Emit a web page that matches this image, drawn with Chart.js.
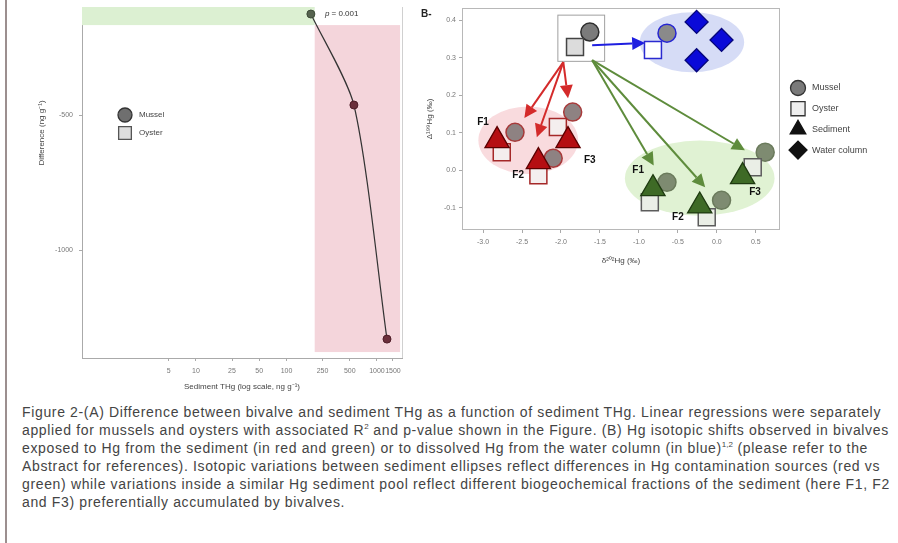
<!DOCTYPE html>
<html>
<head>
<meta charset="utf-8">
<script src="https://cdn.jsdelivr.net/npm/chart.js@4.4.1/dist/chart.umd.min.js"></script>
<style>
  body { margin: 0; background: #fff; width: 898px; height: 543px; overflow: hidden; position: relative; font-family: 'Liberation Sans', Arial, sans-serif; }
  #rule { position: absolute; left: 5px; top: 0; width: 2px; height: 543px; background: #9c8f8f; }
  #boxA { position: absolute; left: 8px; top: 0; width: 402px; height: 396px; }
  #boxB { position: absolute; left: 415px; top: 0; width: 483px; height: 280px; }
  #labB { position: absolute; left: 421px; top: 8px; font: bold 10px 'Liberation Sans', Arial, sans-serif; color: #222; }
  #cap { position: absolute; left: 22px; top: 403px; font-size: 14px; letter-spacing: 0.65px; line-height: 18px; color: #444; white-space: nowrap; }
  sup { font-size: 8px; line-height: 0; vertical-align: 6px; letter-spacing: 0; }
</style>
</head>
<body>
<div id="rule"></div>
<div id="boxA"><canvas id="chartA"></canvas></div>
<div id="boxB"><canvas id="chartB"></canvas></div>
<div id="labB">B-</div>
<div id="cap">
Figure 2-(A) Difference between bivalve and sediment THg as a function of sediment THg. Linear regressions were separately<br>
applied for mussels and oysters with associated R<sup>2</sup> and p-value shown in the Figure. (B) Hg isotopic shifts observed in bivalves<br>
exposed to Hg from the sediment (in red and green) or to dissolved Hg from the water column (in blue)<sup>1,2</sup> (please refer to the<br>
Abstract for references). Isotopic variations between sediment ellipses reflect differences in Hg contamination sources (red vs<br>
green) while variations inside a similar Hg sediment pool reflect different biogeochemical fractions of the sediment (here F1, F2<br>
and F3) preferentially accumulated by bivalves.
</div>
<script>
Chart.defaults.font.family = "'Liberation Sans', Arial, sans-serif";
Chart.defaults.color = '#777';
Chart.defaults.animation = false;

// ---- panel A: bivalve minus sediment THg vs sediment THg
const sedTHg = [186, 556, 1290];
const diffTHg = [-126, -463, -1330];
const siteA = ['low', 'high', 'high'];
const xTicksA = [5, 10, 25, 50, 100, 250, 500, 1000, 1500];
const yTicksA = [-1000, -500];
// shaded ranges (sediment THg range, difference range)
const bandX0 = [0.55, 205];
const bandX1 = [205, 1800];
const bandY0 = [-167, -1378];
const bandY1 = [-100, -167];
const bandColor = ['#dcf0d2', '#f4d5db'];

// ---- panel B: isotopes (x = d202Hg, y = D199Hg)
const musselX = [-1.63, -0.64, -2.59, -2.10, -1.85, -0.64, 0.06, 0.62];
const musselY = [0.368, 0.365, 0.101, 0.032, 0.155, -0.032, -0.080, 0.048];
const musselGrp = ['start', 'water', 'red', 'red', 'red', 'green', 'green', 'green'];
const oysterX = [-1.82, -0.82, -2.76, -2.29, -2.04, -0.86, -0.13, 0.46];
const oysterY = [0.328, 0.320, 0.048, -0.013, 0.115, -0.085, -0.125, 0.008];
const oysterGrp = ['start', 'water', 'red', 'red', 'red', 'green', 'green', 'green'];
const sedimentX = [-2.82, -2.29, -1.91, -0.82, -0.22, 0.33];
const sedimentY = [0.079, 0.023, 0.079, -0.049, -0.095, -0.017];
const sedimentGrp = ['red', 'red', 'red', 'green', 'green', 'green'];
const waterX = [-0.26, 0.06, -0.26];
const waterY = [0.395, 0.347, 0.293];
const xTicksB = [-3.0, -2.5, -2.0, -1.5, -1.0, -0.5, 0.0, 0.5];
const yTicksB = [-0.1, 0.0, 0.1, 0.2, 0.3, 0.4];

// shifts: from bivalve start pool to exposure pool
const arrowX0 = [-1.97, -1.97, -1.97, -1.60, -1.60, -1.60, -1.60];
const arrowY0 = [0.288, 0.288, 0.288, 0.293, 0.293, 0.293, 0.333];
const arrowX1 = [-2.47, -2.31, -1.91, -0.81, -0.15, 0.36, -0.92];
const arrowY1 = [0.139, 0.088, 0.192, 0.013, -0.045, 0.053, 0.339];
const arrowGrp = ['red', 'red', 'red', 'green', 'green', 'green', 'water'];

// ellipses: centre, half-width, half-height (data units)
const ellGrp = ['red', 'green', 'water'];
const ellX = [-2.42, -0.22, -0.32];
const ellY = [0.080, -0.021, 0.341];
const ellRx = [0.64, 0.96, 0.67];
const ellRy = [0.090, 0.100, 0.080];

const fracLabels = ['F1', 'F2', 'F3', 'F1', 'F2', 'F3'];
const fracX = [-3.00, -2.55, -1.63, -1.01, -0.50, 0.49];
const fracY = [0.128, -0.013, 0.027, 0.000, -0.125, -0.059];

const startBox = [-2.04, -1.44, 0.290, 0.413];

const musselFill = { start: '#7b7b7b', water: '#8a8a8a', red: '#8e8282', green: '#7e8b71' };
const musselEdge = { start: '#2e2e2e', water: '#2626d2', red: '#a83a3a', green: '#6b7b5c' };
const oysterFill = { start: '#dcdcdc', water: '#ffffff', red: '#f4eeee', green: '#eaeee6' };
const oysterEdge = { start: '#444444', water: '#2a2ad0', red: '#a52828', green: '#5c5c5c' };
const sedFill = { red: '#b50e12', green: '#3e6a26' };
const sedEdge = { red: '#5c0000', green: '#1e3a10' };
const arrowCol = { red: '#d42a2a', green: '#5e8c3c', water: '#1f1fe0' };
const ellCol = { red: 'rgba(240,160,168,0.38)', green: 'rgba(214,237,196,0.75)', water: 'rgba(186,196,240,0.6)' };

const legendA = [
  { label: 'Mussel', style: 'circle', r: 7, fill: '#6f6f6f', edge: '#333' },
  { label: 'Oyster', style: 'rect', r: 9, fill: '#dedede', edge: '#555' }
];
const legendB = [
  { label: 'Mussel', style: 'circle', r: 7.5, fill: '#7a7a7a', edge: '#333' },
  { label: 'Oyster', style: 'rect', r: 10, fill: '#eeeeee', edge: '#333' },
  { label: 'Sediment', style: 'triangle', r: 9, fill: '#111', edge: '#111' },
  { label: 'Water column', style: 'rectRot', r: 9, fill: '#111', edge: '#111' }
];

function drawLegend(ctx, items, x0, y0, gap, size) {
  items.forEach((it, i) => {
    const y = y0 + i * gap;
    ctx.fillStyle = it.fill; ctx.strokeStyle = it.edge; ctx.lineWidth = 1.3;
    Chart.helpers.drawPoint(ctx, { pointStyle: it.style, radius: it.r, borderWidth: 1.3 }, x0, y);
    ctx.fillStyle = '#444'; ctx.font = size + "px 'Liberation Sans', Arial, sans-serif";
    ctx.textBaseline = 'middle'; ctx.textAlign = 'left';
    ctx.fillText(it.label, x0 + 14, y);
  });
}

const decorA = {
  id: 'decorA',
  beforeDatasetsDraw(chart) {
    const { ctx, scales: { x, y }, chartArea: a } = chart;
    ctx.save();
    bandColor.forEach((c, i) => {
      const l = x.getPixelForValue(bandX0[i]), r = x.getPixelForValue(bandX1[i]);
      const t = y.getPixelForValue(bandY1[i]), b = y.getPixelForValue(bandY0[i]);
      ctx.fillStyle = c; ctx.fillRect(l, t, r - l, b - t);
    });
    ctx.strokeStyle = '#d0d0d0'; ctx.lineWidth = 1;
    ctx.beginPath(); ctx.moveTo(a.right + 0.5, a.top); ctx.lineTo(a.right + 0.5, a.bottom); ctx.stroke();
    // y title sits high because the original panel is cropped at the top
    ctx.translate(34, 133); ctx.rotate(-Math.PI / 2);
    ctx.fillStyle = '#444'; ctx.font = "8px 'Liberation Sans', Arial, sans-serif";
    ctx.textAlign = 'center'; ctx.textBaseline = 'middle';
    ctx.fillText('Difference (ng g⁻¹)', 0, 0);
    ctx.restore();
  },
  afterDatasetsDraw(chart) {
    const { ctx, scales: { x, y } } = chart;
    ctx.save();
    const px = x.getPixelForValue(sedTHg[0]) + 14, py = y.getPixelForValue(diffTHg[0]);
    ctx.fillStyle = '#333'; ctx.textBaseline = 'middle'; ctx.textAlign = 'left';
    ctx.font = "italic 8px 'Liberation Sans', Arial, sans-serif";
    ctx.fillText('p', px, py);
    const w = ctx.measureText('p').width;
    ctx.font = "8px 'Liberation Sans', Arial, sans-serif";
    ctx.fillText(' = 0.001', px + w, py);
    drawLegend(ctx, legendA, 117, 115, 18, 8);
    ctx.restore();
  }
};

function drawArrow(ctx, x0, y0, x1, y1, color) {
  const ang = Math.atan2(y1 - y0, x1 - x0), hl = 13, hw = 6.5;
  const bx = x1 - hl * Math.cos(ang), by = y1 - hl * Math.sin(ang);
  ctx.strokeStyle = color; ctx.lineWidth = 2;
  ctx.beginPath(); ctx.moveTo(x0, y0); ctx.lineTo(bx, by); ctx.stroke();
  ctx.fillStyle = color;
  ctx.beginPath(); ctx.moveTo(x1, y1);
  ctx.lineTo(bx + hw * Math.sin(ang), by - hw * Math.cos(ang));
  ctx.lineTo(bx - hw * Math.sin(ang), by + hw * Math.cos(ang));
  ctx.closePath(); ctx.fill();
}

const decorB = {
  id: 'decorB',
  beforeDatasetsDraw(chart) {
    const { ctx, scales: { x, y }, chartArea: a } = chart;
    ctx.save();
    ctx.strokeStyle = '#b8b8b8'; ctx.lineWidth = 1;
    ctx.strokeRect(a.left + 0.5, a.top + 0.5, a.right - a.left - 1, a.bottom - a.top - 1);
    ellGrp.forEach((g, i) => {
      const cx = x.getPixelForValue(ellX[i]), cy = y.getPixelForValue(ellY[i]);
      const rx = x.getPixelForValue(ellX[i] + ellRx[i]) - cx;
      const ry = cy - y.getPixelForValue(ellY[i] + ellRy[i]);
      ctx.fillStyle = ellCol[g];
      ctx.beginPath(); ctx.ellipse(cx, cy, rx, ry, 0, 0, Math.PI * 2); ctx.fill();
    });
    const bl = x.getPixelForValue(startBox[0]), br = x.getPixelForValue(startBox[1]);
    const bt = y.getPixelForValue(startBox[3]), bb = y.getPixelForValue(startBox[2]);
    ctx.strokeStyle = '#a0a0a0'; ctx.lineWidth = 1;
    ctx.strokeRect(bl, bt, br - bl, bb - bt);
    arrowGrp.forEach((g, i) => {
      drawArrow(ctx, x.getPixelForValue(arrowX0[i]), y.getPixelForValue(arrowY0[i]),
        x.getPixelForValue(arrowX1[i]), y.getPixelForValue(arrowY1[i]), arrowCol[g]);
    });
    ctx.restore();
  },
  afterDatasetsDraw(chart) {
    const { ctx, scales: { x, y } } = chart;
    ctx.save();
    ctx.fillStyle = '#111'; ctx.font = "bold 10px 'Liberation Sans', Arial, sans-serif";
    ctx.textAlign = 'center'; ctx.textBaseline = 'middle';
    fracLabels.forEach((t, i) => ctx.fillText(t, x.getPixelForValue(fracX[i]), y.getPixelForValue(fracY[i])));
    drawLegend(ctx, legendB, 383, 88, 20.7, 9);
    ctx.restore();
  }
};

const tickFont = { size: 7 };
const titleFont = { size: 8 };
const noPad = s => { s.paddingTop = 0; s.paddingBottom = 0; };

new Chart(document.getElementById('chartA'), {
  type: 'scatter',
  data: {
    datasets: [
      {
        data: sedTHg.map((v, i) => ({ x: v, y: diffTHg[i] })),
        pointRadius: 4, pointHoverRadius: 4,
        backgroundColor: siteA.map(s => s === 'low' ? '#56634f' : '#6b2f3b'),
        borderColor: siteA.map(s => s === 'low' ? '#3d4a38' : '#4e1c27'),
        borderWidth: 1
      },
      {
        data: sedTHg.map((v, i) => ({ x: v, y: diffTHg[i] })),
        showLine: true, tension: 0.25,
        borderColor: '#333', borderWidth: 1.2, pointRadius: 0
      }
    ]
  },
  options: {
    responsive: true, maintainAspectRatio: false,
    layout: { autoPadding: false, padding: { left: 28, right: 8, top: 7, bottom: 0 } },
    plugins: { legend: { display: false }, tooltip: { enabled: false } },
    scales: {
      x: {
        type: 'logarithmic', min: 0.55, max: 1890,
        afterBuildTicks: s => { s.ticks = xTicksA.map(v => ({ value: v })); },
        afterFit: s => { s.height = 38; },
        ticks: { font: tickFont, color: '#777', padding: 6, autoSkip: false, maxRotation: 0, callback: v => String(v) },
        grid: { drawOnChartArea: false, tickLength: 3, color: '#aaa' },
        border: { color: '#aaa' },
        title: { display: true, text: 'Sediment THg (log scale, ng g⁻¹)', font: titleFont, color: '#444', padding: { top: 0, bottom: 4 } }
      },
      y: {
        min: -1400, max: -100,
        afterBuildTicks: s => { s.ticks = yTicksA.map(v => ({ value: v })); },
        afterFit: s => { s.width = 46; noPad(s); },
        ticks: { font: tickFont, color: '#777', padding: 6, callback: v => String(v) },
        grid: { drawOnChartArea: false, tickLength: 3, color: '#aaa' },
        border: { color: '#aaa' },
        title: { display: false }
      }
    }
  },
  plugins: [decorA]
});

const pts = (xs, ys) => xs.map((v, i) => ({ x: v, y: ys[i] }));

new Chart(document.getElementById('chartB'), {
  type: 'scatter',
  data: {
    datasets: [
      {
        label: 'Sediment', order: 1, data: pts(sedimentX, sedimentY),
        pointStyle: 'triangle', pointRadius: 14, pointHoverRadius: 14, borderWidth: 1.3,
        backgroundColor: sedimentGrp.map(g => sedFill[g]), borderColor: sedimentGrp.map(g => sedEdge[g])
      },
      {
        label: 'Water column', order: 2, data: pts(waterX, waterY),
        pointStyle: 'rectRot', pointRadius: 11.5, pointHoverRadius: 11.5, borderWidth: 1.3,
        backgroundColor: '#0a0ad8', borderColor: '#06067a'
      },
      {
        label: 'Oyster', order: 3, data: pts(oysterX, oysterY),
        pointStyle: 'rect', pointRadius: 12, pointHoverRadius: 12, borderWidth: 1.5,
        backgroundColor: oysterGrp.map(g => oysterFill[g]), borderColor: oysterGrp.map(g => oysterEdge[g])
      },
      {
        label: 'Mussel', order: 4, data: pts(musselX, musselY),
        pointStyle: 'circle', pointRadius: 9, pointHoverRadius: 9, borderWidth: 1.5,
        backgroundColor: musselGrp.map(g => musselFill[g]), borderColor: musselGrp.map(g => musselEdge[g])
      }
    ]
  },
  options: {
    responsive: true, maintainAspectRatio: false,
    layout: { autoPadding: false, padding: { left: 8, right: 118, top: 8, bottom: 0 } },
    plugins: { legend: { display: false }, tooltip: { enabled: false } },
    scales: {
      x: {
        min: -3.27, max: 0.81,
        afterBuildTicks: s => { s.ticks = xTicksB.map(v => ({ value: v })); },
        afterFit: s => { s.height = 50; },
        ticks: { font: tickFont, color: '#777', padding: 5, autoSkip: false, maxRotation: 0, callback: v => Number(v).toFixed(1) },
        grid: { drawOnChartArea: false, tickLength: 3, color: '#aaa' },
        border: { display: false },
        title: { display: true, text: 'δ²⁰²Hg (‰)', font: titleFont, color: '#444', padding: { top: 0, bottom: 14 } }
      },
      y: {
        min: -0.159, max: 0.432,
        afterBuildTicks: s => { s.ticks = yTicksB.map(v => ({ value: v })); },
        afterFit: s => { s.width = 39; noPad(s); },
        ticks: { font: tickFont, color: '#777', padding: 3, callback: v => Number(v).toFixed(1) },
        grid: { drawOnChartArea: false, tickLength: 3, color: '#aaa' },
        border: { display: false },
        title: { display: true, text: 'Δ¹⁹⁹Hg (‰)', font: titleFont, color: '#444', padding: { top: 2, bottom: 0 } }
      }
    }
  },
  plugins: [decorB]
});
</script>
</body>
</html>
